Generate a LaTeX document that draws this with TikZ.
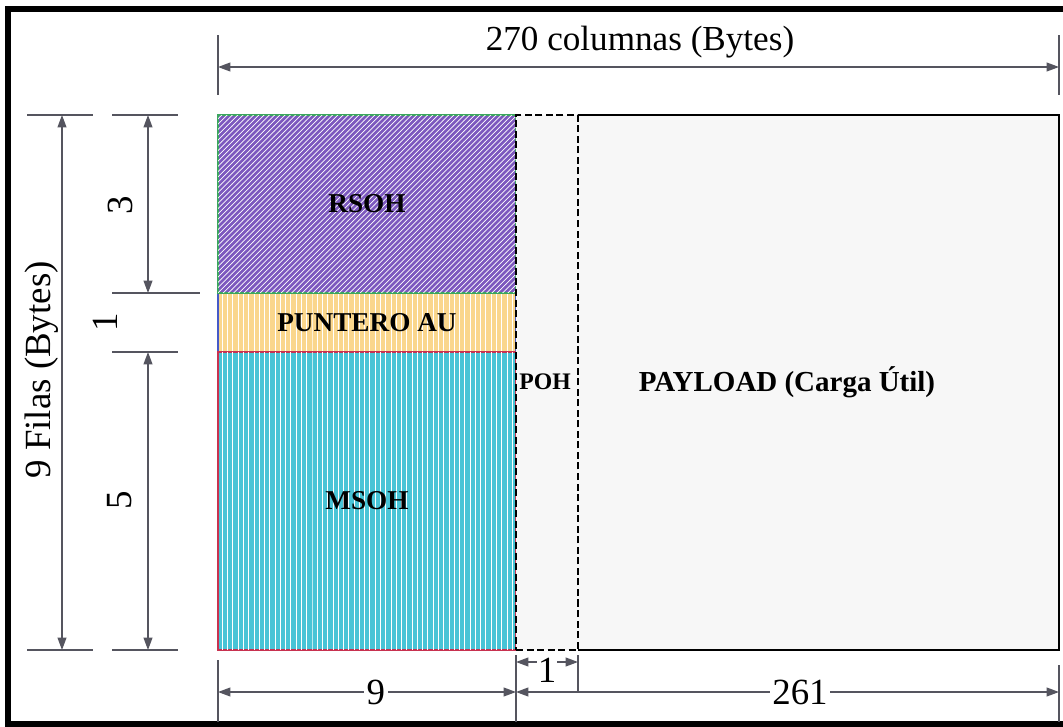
\documentclass[tikz,border=0pt]{standalone}
\usepackage{fontspec}
\setmainfont{Liberation Serif}
\usetikzlibrary{arrows.meta,patterns}
\definecolor{rsohc}{RGB}{124,88,190}
\definecolor{rsohb}{RGB}{60,165,95}
\definecolor{puntc}{RGB}{250,214,140}
\definecolor{puntb}{RGB}{70,90,200}
\definecolor{msohc}{RGB}{72,196,214}
\definecolor{msohb}{RGB}{200,50,80}
\definecolor{payc}{RGB}{247,247,247}
\definecolor{dimc}{RGB}{85,85,95}
\tikzset{
  block/.style={draw, line width=1.4pt, inner sep=0pt, outer sep=0pt, minimum width=5.96cm,
    font=\bfseries\fontsize{15.5}{18}\selectfont},
  dim/.style={draw=dimc, line width=.8pt, {Triangle[length=7pt,width=5pt]}-{Triangle[length=7pt,width=5pt]}},
  tick/.style={draw=dimc, line width=.6pt},
  num/.style={font=\fontsize{21}{24}\selectfont, inner sep=1.5pt},
}
\begin{document}
\begin{tikzpicture}[x=0.02cm, y=-0.02cm]
        \useasboundingbox (0,0) rectangle (1063,727);
        % Frame
        \draw[line width=3.5pt] (1063,9) -- (8,9) -- (8,724) -- (1063,724);

        % Overhead blocks
        \node[block, draw=puntb, fill=puntc, minimum height=1.18cm,
          postaction={pattern=vertical lines, pattern color=white, fill opacity=.15}] (punt) at (367,322.5) {PUNTERO AU};
        \node[block, draw=rsohb, fill=rsohc, minimum height=3.56cm,
          postaction={pattern=north east lines, pattern color=white, fill opacity=.12}] (rsoh) at (367,204) {RSOH};
        \node[block, draw=msohb, fill=msohc, minimum height=5.96cm,
          postaction={pattern=vertical lines, pattern color=white, fill opacity=.18}] (msoh) at (367,501) {MSOH};

        % Payload and POH
        \node[fill=payc, inner sep=0pt, outer sep=0pt, minimum width=9.62cm, minimum height=10.7cm] (payload) at (818.5,382.5) {};
        \draw[line width=1.4pt] (payload.north west) -- (payload.north east) -- (payload.south east) -- (payload.south west);
        \node[draw, dashed, dash pattern=on 4pt off 2pt, line width=1.4pt, fill=payc, inner sep=0pt, outer sep=0pt,
          minimum width=1.24cm, minimum height=10.7cm] (poh) at (547,382.5) {};
        \node[font=\bfseries\fontsize{13.5}{16}\selectfont] (pohlbl) at (545,382) {POH};
        \node[font=\bfseries\fontsize{16.5}{19}\selectfont] (paylbl) at (787,382) {PAYLOAD (Carga Útil)};

        % Top dimension
        \draw[tick] (218,35) -- (218,95);
        \draw[tick] (1059,35) -- (1059,95);
        \coordinate (colL) at (218,67);
        \coordinate (colR) at (1059,67);
        \draw[dim] (colL) -- (colR);
        \node[num, font=\fontsize{20}{24}\selectfont] (cols) at (640,42) {270 columnas (Bytes)};

        % Left dimensions
        \draw[tick] (27,115) -- (93,115);
        \draw[tick] (27,650) -- (93,650);
        \coordinate (filT) at (62,115);
        \coordinate (filB) at (62,650);
        \draw[dim] (filT) -- (filB);
        \node[num, rotate=90] (filas) at (42,370) {9 Filas (Bytes)};

        \draw[tick] (112,115) -- (178,115);
        \draw[tick] (112,293) -- (200,293);
        \draw[tick] (112,352) -- (178,352);
        \draw[tick] (112,650) -- (178,650);
        \coordinate (rsT) at (148,115);
        \coordinate (rsB) at (148,293);
        \coordinate (msT) at (148,352);
        \coordinate (msB) at (148,650);
        \draw[dim] (rsT) -- (rsB);
        \draw[dim] (msT) -- (msB);
        \node[num, rotate=90] (n3) at (120,205) {3};
        \node[num, rotate=90] (n1) at (105,322) {1};
        \node[num, rotate=90] (n5) at (120,500) {5};

        % Bottom dimensions
        \draw[tick] (218,660) -- (218,722);
        \draw[tick] (516,655) -- (516,722);
        \draw[tick] (578,655) -- (578,692);
        \draw[tick] (1059,665) -- (1059,722);
        \coordinate (b9L) at (218,692);
        \coordinate (b9R) at (516,692);
        \coordinate (bpR) at (1059,692);
        \coordinate (b1L) at (516,662);
        \coordinate (b1R) at (578,662);
        \draw[dim] (b9L) -- (b9R) node[num, pos=.53, fill=white] (n9) {9};
        \draw[dim] (b9R) -- (bpR) node[num, pos=.523, fill=white] (n261) {261};
        \draw[dim] (b1L) -- (b1R) node[num, midway, fill=white, yshift=-5pt, inner sep=.5pt] (nb1) {1};
    \end{tikzpicture}
\end{document}
